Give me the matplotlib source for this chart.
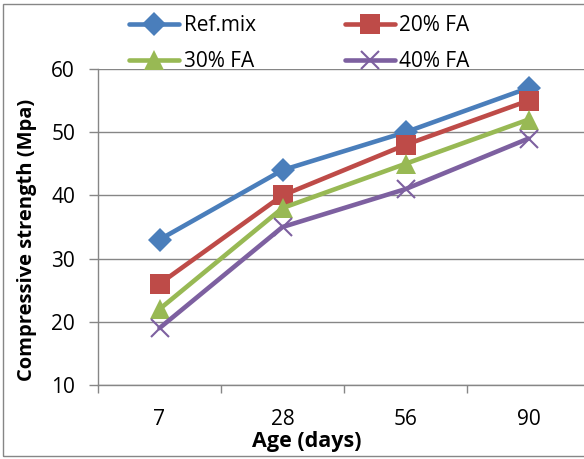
import numpy as np
import matplotlib.pyplot as plt
from matplotlib.patches import Rectangle

ages = ["7", "28", "56", "90"]
ref_mix = [33, 44, 50, 57]
fa20 = [26, 40, 48, 55]
fa30 = [22, 38, 45, 52]
fa40 = [19, 35, 41, 49]
y_ticks = [10, 20, 30, 40, 50, 60]

plt.rcParams['font.family'] = ['Open Sans', 'DejaVu Sans']

fig = plt.figure(figsize=(5.84, 4.59), dpi=100)
W, H = 584.0, 459.0
# plot area in pixels: left 98, top 69, bottom 385, right runs past the edge
ax = fig.add_axes([98 / W, 1 - 385 / H, (590 - 98) / W, (385 - 69) / H])

x = np.arange(len(ages))
series = [
    ("Ref.mix", ref_mix, "#4A7EBB", "D", 12),
    ("20% FA", fa20, "#BE4B48", "s", 14),
    ("30% FA", fa30, "#98B954", "^", 15),
    ("40% FA", fa40, "#7D60A0", "x", 13),
]
for label, vals, col, mk, ms in series:
    ax.plot(x, vals, color=col, lw=3.3, marker=mk, ms=ms, mew=1.5 if mk == "x" else 0,
            mec=col, label=label, solid_capstyle="round")

ax.set_ylim(10, 60)
ax.set_yticks(y_ticks)
ax.set_xlim(-0.5, 3.5)
ax.set_xticks(x)
ax.set_xticklabels(ages, fontsize=15)
ax.set_xticks(np.arange(-0.5, 3.6, 1), minor=True)
ax.tick_params(axis='x', which='major', length=0, pad=17)
ax.tick_params(axis='x', which='minor', length=6, color='#868686', width=1)
ax.tick_params(axis='y', length=6.5, color='#868686', width=1, labelsize=15, pad=10)
ax.grid(axis='y', color='#868686', lw=1)
ax.set_axisbelow(True)
for s in ['top', 'right']:
    ax.spines[s].set_visible(False)
for s in ['left', 'bottom']:
    ax.spines[s].set_color('#868686')
    ax.spines[s].set_linewidth(1)

ax.set_ylabel("Compressive strength (Mpa)", fontsize=14.5, fontweight='bold')
ax.yaxis.set_label_coords(-0.145, 0.459)
ax.yaxis.label.set_va('center')
ax.set_xlabel("Age (days)", fontsize=15.5, fontweight='bold')
ax.xaxis.set_label_coords(0.425, -0.18)
ax.xaxis.label.set_va('center')

handles, labels = ax.get_legend_handles_labels()
order = [0, 2, 1, 3]  # legend fills by column
fig.legend([handles[i] for i in order], [labels[i] for i in order], ncol=2,
           frameon=False, fontsize=15,
           loc='upper left', bbox_to_anchor=(121 / W, 1 - 7 / H),
           handlelength=2.4, handletextpad=0.2, columnspacing=4.3,
           labelspacing=0.7, borderaxespad=0)

fig.patches.append(Rectangle((3 / W, 3 / H), 1.2, 1 - 7 / H, transform=fig.transFigure,
                             fill=False, ec='#868686', lw=1))

fig.savefig("out.png", dpi=100)
